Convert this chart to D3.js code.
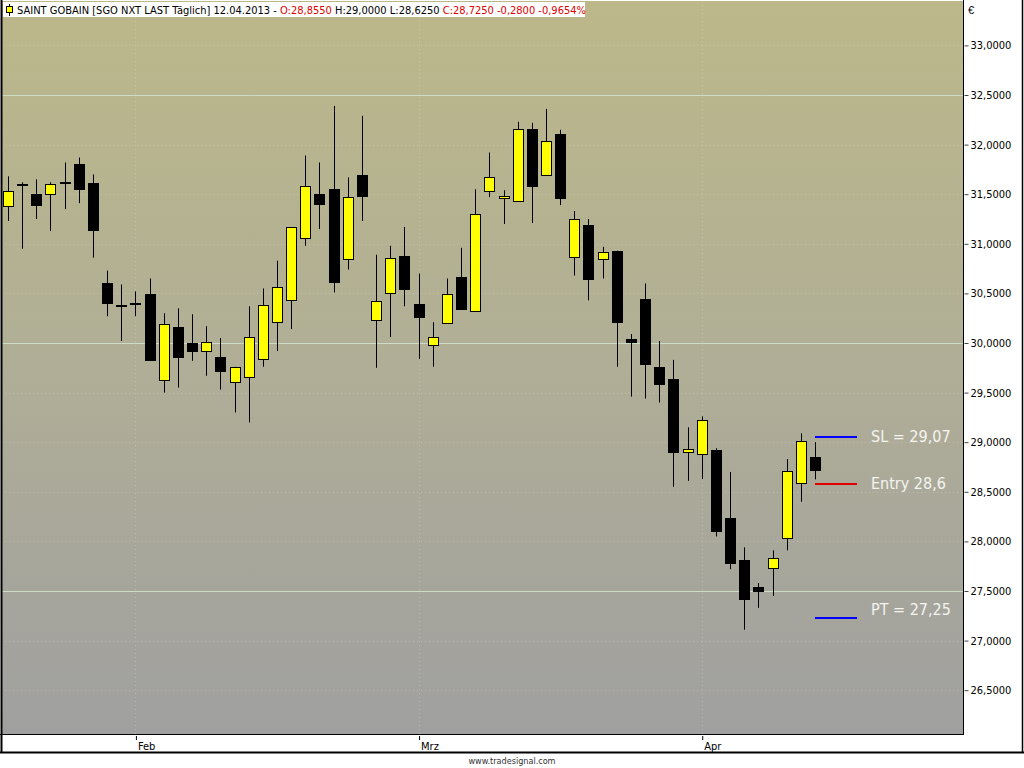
<!DOCTYPE html>
<html>
<head>
<meta charset="utf-8">
<script src="https://cdn.jsdelivr.net/npm/d3@7"></script>
<style>
html,body{margin:0;padding:0;background:#fff;}
svg{display:block;}
</style>
</head>
<body>
<svg id="chart" width="1024" height="768"></svg>
<script>
// ---- data (SAINT GOBAIN daily, 21.01.2013 - 12.04.2013) ----
const dates = ["2013-01-21","2013-01-22","2013-01-23","2013-01-24","2013-01-25","2013-01-28","2013-01-29","2013-01-30","2013-01-31",
"2013-02-01","2013-02-04","2013-02-05","2013-02-06","2013-02-07","2013-02-08","2013-02-11","2013-02-12","2013-02-13","2013-02-14","2013-02-15",
"2013-02-18","2013-02-19","2013-02-20","2013-02-21","2013-02-22","2013-02-25","2013-02-26","2013-02-27","2013-02-28",
"2013-03-01","2013-03-04","2013-03-05","2013-03-06","2013-03-07","2013-03-08","2013-03-11","2013-03-12","2013-03-13","2013-03-14","2013-03-15",
"2013-03-18","2013-03-19","2013-03-20","2013-03-21","2013-03-22","2013-03-25","2013-03-26","2013-03-27","2013-03-28",
"2013-04-02","2013-04-03","2013-04-04","2013-04-05","2013-04-08","2013-04-09","2013-04-10","2013-04-11","2013-04-12"];
const opens  = [31.38,31.60,31.50,31.50,31.62,31.80,31.61,30.60,30.38,30.40,30.49,29.63,30.16,30.00,29.92,29.86,29.61,29.66,29.84,30.21,
30.43,31.06,31.50,31.55,30.85,31.69,30.23,30.51,30.88,30.39,29.98,30.20,30.67,30.32,31.53,31.46,31.43,32.16,31.70,32.11,
30.87,31.19,30.85,30.93,30.04,30.44,29.76,29.64,28.90,28.88,28.92,28.24,27.81,27.54,27.73,28.03,28.59,28.855];
const highs  = [31.68,31.62,31.65,31.62,31.82,31.87,31.70,30.73,30.59,30.52,30.65,30.30,30.35,30.29,30.17,30.05,29.76,30.37,30.55,30.83,
31.17,31.89,31.82,32.39,31.67,32.29,30.89,30.98,31.17,30.70,30.21,30.65,30.96,31.55,31.92,31.54,32.23,32.22,32.36,32.15,
31.33,31.25,30.97,30.93,30.09,30.60,30.02,29.83,29.15,29.26,28.94,28.70,27.94,27.58,27.91,28.83,29.09,29.00];
const lows   = [31.23,30.95,31.25,31.13,31.35,31.41,30.86,30.27,30.02,30.27,29.82,29.50,29.55,29.82,29.67,29.53,29.30,29.20,29.76,29.92,
30.14,30.98,31.15,30.51,30.74,31.23,29.75,30.06,30.37,29.84,29.76,30.20,30.35,30.32,31.47,31.20,31.43,31.21,31.70,31.39,
30.68,30.43,30.65,29.76,29.46,29.44,29.40,28.55,28.61,28.63,28.05,27.72,27.11,27.33,27.45,27.91,28.40,28.625];
const closes = [31.535,31.60,31.39,31.60,31.62,31.545,31.14,30.40,30.38,30.40,29.82,30.19,29.86,29.92,30.01,29.72,29.76,30.06,30.38,30.56,
31.17,31.58,31.40,30.61,31.475,31.475,30.42,30.86,30.55,30.255,30.06,30.49,30.35,31.30,31.67,31.485,32.16,31.59,32.04,31.465,
31.25,30.65,30.92,30.215,30.01,29.78,29.59,28.90,28.93,29.22,28.10,27.785,27.42,27.50,27.83,28.71,29.01,28.725];

const monthLabels = ["Feb","Mrz","Apr"];
const monthStarts = ["2013-02-01","2013-03-01","2013-04-02"];
const yTickValues = [26.5,27,27.5,28,28.5,29,29.5,30,30.5,31,31.5,32,32.5,33];
const majorGridValues = [27.5,30,32.5];

const levelNames  = ["SL = 29,07","Entry 28,6","PT = 27,25"];
const levelValues = [29.07,28.6,27.25];

const headerParts = [
  {t:"SAINT GOBAIN [SGO NXT LAST Täglich] 12.04.2013 - ", k:"n"},
  {t:"O:28,8550", k:"r"},
  {t:" H:29,0000 L:28,6250 ", k:"n"},
  {t:"C:28,7250 -0,2800 -0,9654%", k:"r"}
];

// ---- styles ----
const levelColors = ["#0000ff","#e00000","#0000ff"];
const upFill = "#ffff00", downFill = "#000000";

// ---- layout ----
const svg = d3.select("#chart");
const plot = {left:1, top:1, right:963, bottom:734};

const x = d3.scaleLinear().domain([0, dates.length-1]).range([8, 815]);
const y = d3.scaleLinear().domain([26, 33]).range([739.8, 45.4]);

const defs = svg.append("defs");
const grad = defs.append("linearGradient").attr("id","bg").attr("x1",0).attr("y1",0).attr("x2",0).attr("y2",1);
grad.append("stop").attr("offset","0%").attr("stop-color","#bcb88a");
grad.append("stop").attr("offset","50%").attr("stop-color","#b0ae96");
grad.append("stop").attr("offset","100%").attr("stop-color","#a0a0a0");
defs.append("clipPath").attr("id","clip").append("rect")
  .attr("x",plot.left).attr("y",plot.top).attr("width",plot.right-plot.left).attr("height",plot.bottom-plot.top);

// outer white + plot background
svg.append("rect").attr("x",0).attr("y",0).attr("width",1024).attr("height",768).attr("fill","#fff");
svg.append("rect").attr("x",plot.left).attr("y",plot.top).attr("width",plot.right-plot.left).attr("height",plot.bottom-plot.top).attr("fill","url(#bg)");

const g = svg.append("g").attr("clip-path","url(#clip)");

// minor dotted grid
g.selectAll(".minor").data(yTickValues.filter(v=>majorGridValues.indexOf(v)<0)).enter().append("line")
  .attr("x1",plot.left).attr("x2",plot.right)
  .attr("y1",d=>Math.round(y(d))+0.5).attr("y2",d=>Math.round(y(d))+0.5)
  .attr("stroke","rgba(255,255,255,0.22)").attr("stroke-dasharray","1,3");
// major grid
g.selectAll(".major").data(majorGridValues).enter().append("line")
  .attr("x1",plot.left).attr("x2",plot.right)
  .attr("y1",d=>Math.round(y(d))+0.5).attr("y2",d=>Math.round(y(d))+0.5)
  .attr("stroke","#cddcc6").attr("stroke-width",1);
// vertical month dotted lines
const monthIdx = monthStarts.map(d=>dates.indexOf(d));
g.selectAll(".vgrid").data(monthIdx).enter().append("line")
  .attr("x1",d=>Math.round(x(d))+0.5).attr("x2",d=>Math.round(x(d))+0.5)
  .attr("y1",plot.top).attr("y2",plot.bottom)
  .attr("stroke","rgba(255,255,255,0.22)").attr("stroke-dasharray","1,3");

// candles
const idx = d3.range(dates.length);
const cg = g.selectAll(".candle").data(idx).enter().append("g");
cg.append("line")
  .attr("x1",i=>Math.round(x(i))+0.5).attr("x2",i=>Math.round(x(i))+0.5)
  .attr("y1",i=>y(highs[i])).attr("y2",i=>y(lows[i]))
  .attr("stroke","#000").attr("stroke-width",1);
cg.append("rect")
  .attr("x",i=>Math.round(x(i))-4.5)
  .attr("width",10)
  .attr("y",i=>Math.round(y(Math.max(opens[i],closes[i])))+0.5)
  .attr("height",i=>Math.max(1, Math.round(Math.abs(y(opens[i])-y(closes[i])))))
  .attr("fill",i=>closes[i]>opens[i]?upFill:downFill)
  .attr("stroke","#000").attr("stroke-width",1);

// level lines + labels
levelValues.forEach((v,k)=>{
  g.append("line").attr("x1",815).attr("x2",857)
    .attr("y1",Math.round(y(v))+2).attr("y2",Math.round(y(v))+2)
    .attr("stroke",levelColors[k]).attr("stroke-width",2);
  g.append("text").attr("x",871).attr("y",y(v)+(k===2?-1:7))
    .attr("fill","#f4f4f0").attr("font-family","'DejaVu Sans Condensed','DejaVu Sans',sans-serif")
    .attr("font-size","16px").text(levelNames[k]);
});

// frames
svg.append("line").attr("x1",1.5).attr("x2",1.5).attr("y1",0).attr("y2",753).attr("stroke","#000").attr("stroke-width",2);
svg.append("line").attr("x1",plot.right+0.5).attr("x2",plot.right+0.5).attr("y1",0).attr("y2",plot.bottom+1).attr("stroke","#000");
svg.append("line").attr("x1",0).attr("x2",plot.right+1).attr("y1",plot.bottom+0.5).attr("y2",plot.bottom+0.5).attr("stroke","#000");
svg.append("line").attr("x1",0).attr("x2",1024).attr("y1",752.5).attr("y2",752.5).attr("stroke","#000").attr("stroke-width",2);
svg.append("line").attr("x1",1022.5).attr("x2",1022.5).attr("y1",0).attr("y2",753).attr("stroke","#000").attr("stroke-width",1.5);

// y axis
const loc = d3.formatLocale({decimal:",", thousands:".", grouping:[3], currency:["","€"]});
const fmt = loc.format(",.4f");
const yAxis = d3.axisRight(y).tickValues(yTickValues).tickFormat(fmt).tickSize(4).tickPadding(2);
const ya = svg.append("g").attr("transform",`translate(${plot.right+1.5},0)`).call(yAxis);
ya.select(".domain").remove();
ya.selectAll("text").attr("font-family","Tahoma,'DejaVu Sans Condensed','Liberation Sans',sans-serif").attr("font-size","11px").attr("fill","#000");
ya.selectAll("line").attr("stroke","#444");
svg.append("text").attr("x",968).attr("y",14).attr("font-family","'Liberation Sans',sans-serif").attr("font-size","11px").text("€");

// x axis
const xAxis = d3.axisBottom(x).tickValues(monthIdx).tickFormat((d,i)=>monthLabels[i]).tickSize(4).tickPadding(0);
const xa = svg.append("g").attr("transform",`translate(0,${plot.bottom+2})`).call(xAxis);
xa.select(".domain").remove();
xa.selectAll("line").attr("stroke","#000").attr("transform","translate(0.5,0)");
xa.selectAll("text").attr("text-anchor","start").attr("dx","2px").attr("dy","0.9em")
  .attr("font-family","Tahoma,'DejaVu Sans Condensed','Liberation Sans',sans-serif").attr("font-size","11px").attr("fill","#000");

// footer
svg.append("text").attr("x",512).attr("y",764).attr("text-anchor","middle")
  .attr("font-family","'DejaVu Sans Condensed','Liberation Sans',sans-serif").attr("font-size","9px").attr("fill","#333")
  .text("www.tradesignal.com");

// header box
svg.append("rect").attr("x",3).attr("y",2).attr("width",582).attr("height",15).attr("fill","#fff");
svg.append("line").attr("x1",9.5).attr("x2",9.5).attr("y1",4).attr("y2",16).attr("stroke","#000");
svg.append("rect").attr("x",6.5).attr("y",6.5).attr("width",6).attr("height",6).attr("fill","#ffff00").attr("stroke","#000");
const ht = svg.append("text").attr("x",17).attr("y",14)
  .attr("font-family","'DejaVu Sans Condensed','Liberation Sans',sans-serif").attr("font-size","11px");
headerParts.forEach(p=>{
  ht.append("tspan").attr("fill",p.k==="r"?"#e00000":"#000").attr("xml:space","preserve").text(p.t);
});
</script>
</body>
</html>
